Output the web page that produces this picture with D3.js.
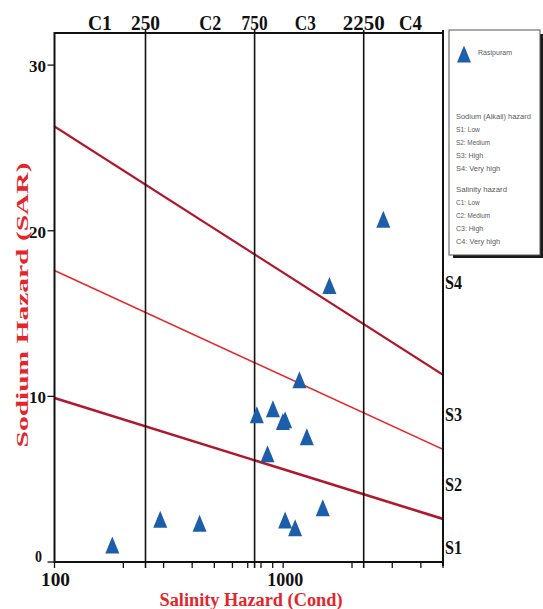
<!DOCTYPE html>
<html>
<head>
<meta charset="utf-8">
<script src="https://cdn.jsdelivr.net/npm/d3@7"></script>
<style>
  html, body { margin: 0; padding: 0; background: #fff; }
  svg { display: block; }
</style>
</head>
<body>
<svg id="chart" width="543" height="609"></svg>
<script>
// Sample values: electrical conductivity (µS/cm) and sodium adsorption ratio
const ecValues  = [179, 290, 431, 767, 902, 997, 1020, 1269, 854, 1020, 1128, 1490, 1178, 1593, 2742];
const sarValues = [1.03, 2.58, 2.34, 8.89, 9.26, 8.49, 8.59, 7.56, 6.53, 2.54, 2.07, 3.28, 11.0, 16.7, 20.7];

// Salinity class boundaries and labels along the top
const salinityBounds = [250, 750, 2250];
const topLabels = [
  { text: "C1",   ec: 158  }, { text: "250",  ec: 250 },
  { text: "C2",   ec: 480  }, { text: "750",  ec: 750 },
  { text: "C3",   ec: 1250 }, { text: "2250", ec: 2250 },
  { text: "C4",   ec: 3600 }
];

// Sodium hazard boundaries (SAR at EC = 100 and EC = 5000)
const boundaryEC = [100, 5000];
const sodiumBounds = [
  { name: "S1-S2", sar: [9.9, 2.6] },
  { name: "S2-S3", sar: [17.6, 6.8] },
  { name: "S3-S4", sar: [26.3, 11.3] }
];
const sodiumLabels = [
  { text: "S4", sar: 16.9 }, { text: "S3", sar: 8.9 },
  { text: "S2", sar: 4.65 }, { text: "S1", sar: 0.9 }
];

const yTicks = [0, 10, 20, 30];
const xLabelTicks = [100, 1000];
const xMinorTicks = [200, 300, 400, 500, 600, 700, 800, 900, 2000, 3000, 4000, 5000];

const legendTitle = "Rasipuram";
const legendLines = [
  "Sodium (Alkali) hazard", "S1: Low", "S2: Medium", "S3: High", "S4: Very high",
  "", "Salinity hazard", "C1: Low", "C2: Medium", "C3: High", "C4: Very high"
];

const svg = d3.select("#chart");
const plotL = 54.5, plotR = 443, plotT = 33, plotB = 562;

const x = d3.scaleLog().domain([100, 5000]).range([plotL, plotR]);
const y = d3.scaleLinear().domain([0, 32]).range([plotB, plotT - 1]);

const serif = "'Liberation Serif', 'Times New Roman', serif";
const red = "#e3262b";

svg.append("defs").append("clipPath").attr("id", "plotClip")
  .append("rect").attr("x", plotL).attr("y", plotT).attr("width", plotR - plotL).attr("height", plotB - plotT);

// Condensed bold serif text helper
function label(g, txt, px, py, size, width, anchor, fill) {
  const t = g.append("text")
    .attr("x", px).attr("y", py)
    .attr("font-family", serif).attr("font-weight", "bold")
    .attr("font-size", size).attr("fill", fill || "#111")
    .attr("text-anchor", anchor || "middle")
    .text(txt);
  if (width) t.attr("textLength", width).attr("lengthAdjust", "spacingAndGlyphs");
  return t;
}

// Sodium hazard boundary lines
const line = d3.line().x(d => x(d[0])).y(d => y(d[1]));
const lineStyles = [
  { color: "#b0182d", w: 2.6 },
  { color: "#e52a2f", w: 1.6 },
  { color: "#b0182d", w: 2.2 }
];
sodiumBounds.forEach((b, i) => {
  svg.append("path")
    .datum(boundaryEC.map((e, k) => [e, b.sar[k]]))
    .attr("d", line)
    .attr("fill", "none")
    .attr("stroke", lineStyles[i].color)
    .attr("stroke-width", lineStyles[i].w)
    .attr("clip-path", "url(#plotClip)");
});

// Salinity class dividers
svg.selectAll(".div").data(salinityBounds).enter().append("line")
  .attr("x1", d => x(d)).attr("x2", d => x(d))
  .attr("y1", plotT - 3).attr("y2", plotB + 6)
  .attr("stroke", "#111").attr("stroke-width", 1.6);

// Frame
svg.append("rect")
  .attr("x", plotL).attr("y", plotT).attr("width", plotR - plotL).attr("height", plotB - plotT)
  .attr("fill", "none").attr("stroke", "#111").attr("stroke-width", 2);
svg.append("line").attr("x1", plotR).attr("x2", plotR).attr("y1", plotT - 3).attr("y2", plotB + 4)
  .attr("stroke", "#111").attr("stroke-width", 2);

// Bottom axis ticks
svg.selectAll(".mtick").data(xMinorTicks.concat(xLabelTicks)).enter().append("line")
  .attr("x1", d => x(d)).attr("x2", d => x(d))
  .attr("y1", plotB).attr("y2", plotB + 6)
  .attr("stroke", "#111").attr("stroke-width", 1.3);
label(svg, "100", x(100) + 1, 586, 19, 29);
label(svg, "1000", x(1000) + 2, 586, 19, 36);

// Left axis ticks
svg.selectAll(".ytick").data(yTicks).enter().append("line")
  .attr("x1", plotL - 7).attr("x2", plotL)
  .attr("y1", d => y(d)).attr("y2", d => y(d))
  .attr("stroke", "#111").attr("stroke-width", 1.3);
yTicks.forEach(v => {
  if (v === 0) label(svg, "0", 42, y(0), 16, 7, "end");
  else label(svg, String(v), 46, y(v) + 7, 17, 17, "end");
});

// Top salinity labels
const topWidths = { "C1": 24, "250": 29, "C2": 22, "750": 26, "C3": 21, "2250": 42, "C4": 23 };
topLabels.forEach(d => label(svg, d.text, x(d.ec), 30, 21, topWidths[d.text]));

// Right sodium labels
sodiumLabels.forEach(d => label(svg, d.text, 445, y(d.sar) + 6.5, 19, 17, "start"));

// Axis titles
label(svg, "Salinity Hazard (Cond)", 251, 606, 18, 183, "middle", red);
label(svg, "Sodium Hazard (SAR)", 0, 0, 17, 285, "middle", red)
  .attr("transform", "translate(28,305) rotate(-90)");

// Triangle marker centred on its bounding box
const triW = 14, triH = 17;
const triPath = `M0,${-triH / 2}L${triW / 2},${triH / 2}L${-triW / 2},${triH / 2}Z`;
const blue = "#1c5ea9";

svg.selectAll(".pt").data(ecValues.map((e, i) => [e, sarValues[i]])).enter().append("path")
  .attr("d", triPath)
  .attr("transform", d => `translate(${x(d[0])},${y(d[1])})`)
  .attr("fill", blue);

// Legend
const lg = svg.append("g");
lg.append("rect").attr("x", 453).attr("y", 34).attr("width", 90).attr("height", 224).attr("fill", "#1a1a1a");
lg.append("rect").attr("x", 449).attr("y", 30).attr("width", 91).attr("height", 225)
  .attr("fill", "#fff").attr("stroke", "#555").attr("stroke-width", 1);
lg.append("path").attr("d", triPath).attr("transform", "translate(464,54)").attr("fill", blue);

function legendText(txt, px, py, width) {
  lg.append("text")
    .attr("x", px).attr("y", py)
    .attr("font-family", "'Liberation Sans', Arial, sans-serif")
    .attr("font-size", 8).attr("fill", "#5a5a5a")
    .attr("textLength", width).attr("lengthAdjust", "spacingAndGlyphs")
    .text(txt);
}
legendText(legendTitle, 478, 54.5, 34);
let ly = 119;
legendLines.forEach(t => {
  if (t === "") { ly += 8; return; }
  legendText(t, 456, ly, t.length * 3.4);
  ly += 13;
});
</script>
</body>
</html>
